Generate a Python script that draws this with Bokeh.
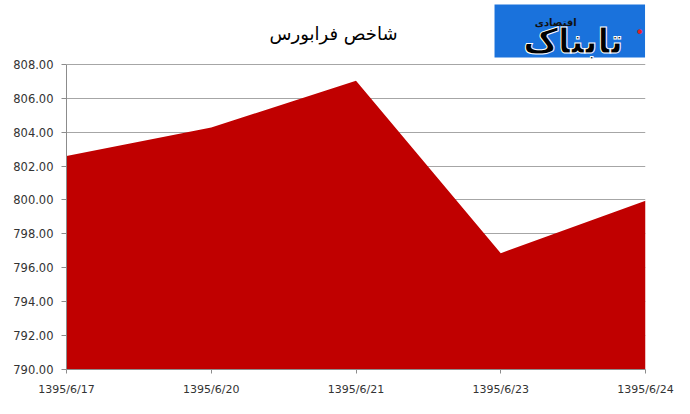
from bokeh.plotting import figure
from bokeh.models import Range1d, FixedTicker, Label, BoxAnnotation, NumeralTickFormatter
from bokeh.embed import file_html
from bokeh.resources import INLINE

dates = ["1395/6/17", "1395/6/20", "1395/6/21", "1395/6/23", "1395/6/24"]
values = [802.59, 804.27, 807.03, 796.86, 799.96]
y_ticks = [790, 792, 794, 796, 798, 800, 802, 804, 806, 808]
title_text = "شاخص فرابورس"
logo_main = "تابناک"
logo_sub = "اقتصادی"

xs = list(range(len(dates)))
y_min, y_max = 790, 808
y_top = y_max + 64 / 17.0  # headroom above the axis for title and logo

p = figure(width=674, height=398, output_backend="svg", toolbar_location=None,
           x_range=Range1d(0, len(dates) - 1), y_range=Range1d(y_min, y_top),
           min_border_left=66, min_border_right=29, min_border_top=0, min_border_bottom=28)
p.outline_line_color = None
p.background_fill_color = "white"

p.varea(x=xs, y1=[y_min] * len(xs), y2=values, fill_color="#C00000", fill_alpha=1.0)

# axes
p.xaxis.ticker = FixedTicker(ticks=xs)
p.xaxis.major_label_overrides = {i: d for i, d in enumerate(dates)}
p.yaxis.ticker = FixedTicker(ticks=y_ticks)
p.yaxis.formatter = NumeralTickFormatter(format="0.00")
p.yaxis.bounds = (y_min, y_max)
for ax in (p.xaxis, p.yaxis):
    ax.axis_line_color = "#8c8c8c"
    ax.major_tick_line_color = "#8c8c8c"
    ax.minor_tick_line_color = None
    ax.major_tick_in = 0
    ax.major_label_text_font = "DejaVu Sans"
    ax.major_label_text_color = "#333333"
p.yaxis.major_label_text_font_size = "11.5px"
p.xaxis.major_label_text_font_size = "11px"
p.xaxis.major_tick_out = 4
p.xaxis.major_label_standoff = 9
p.yaxis.major_tick_out = 5
p.yaxis.major_label_standoff = 8
p.xgrid.grid_line_color = None
p.ygrid.grid_line_color = "#a6a6a6"
p.ygrid.grid_line_width = 1
p.ygrid.bounds = (y_min, y_max)
p.ygrid.level = "underlay"

# title
p.add_layout(Label(x=1.845, y=809.82, text=title_text, text_align="center",
                   text_baseline="middle", text_font="DejaVu Sans",
                   text_font_size="18px", text_color="#000000"))

# logo
p.add_layout(BoxAnnotation(left=2.957, right=3.997, top=811.53, bottom=808.41,
                           fill_color="#1a72dc", fill_alpha=1.0, line_color=None))
p.add_layout(Label(x=3.5, y=809.4, text=logo_main, text_align="center",
                   text_baseline="middle", text_font="DejaVu Sans",
                   text_font_size="34px", text_font_style="bold",
                   text_color="#000000", text_outline_color="#ffffff"))
p.add_layout(Label(x=3.38, y=810.45, text=logo_sub, text_align="center",
                   text_baseline="middle", text_font="DejaVu Sans",
                   text_font_size="10px", text_font_style="bold",
                   text_color="#111111"))
p.add_layout(Label(x=3.96, y=809.9, text="•", text_align="center",
                   text_baseline="middle", text_font="DejaVu Sans",
                   text_font_size="16px", text_color="#e0202a"))

open("out.html", "w").write(file_html(p, INLINE))
